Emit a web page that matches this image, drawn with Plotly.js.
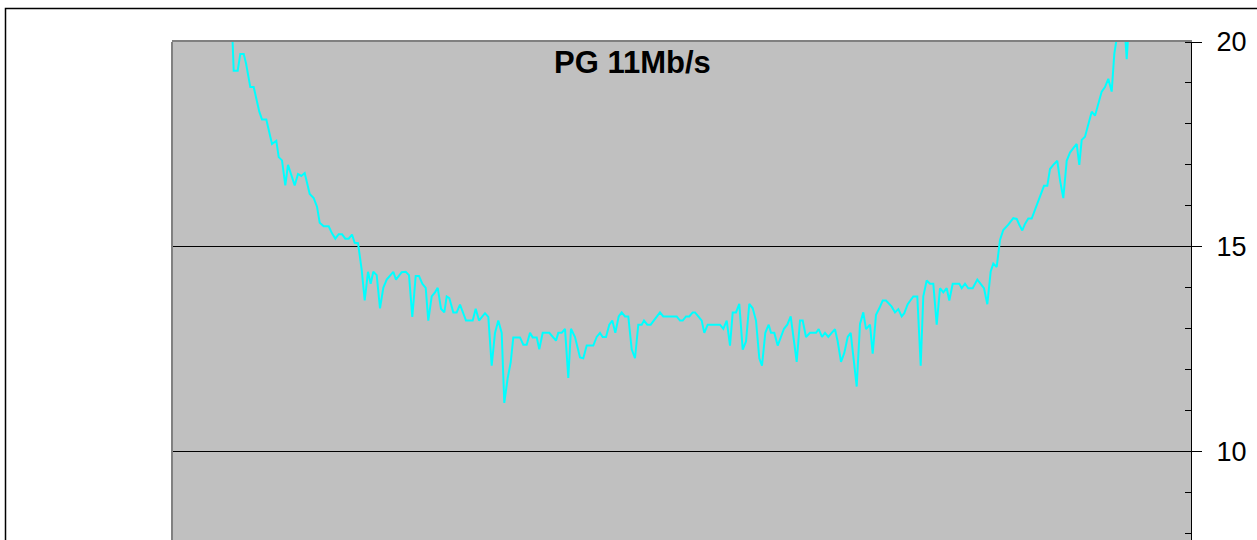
<!DOCTYPE html>
<html>
<head>
<meta charset="utf-8">
<script src="https://cdn.plot.ly/plotly-3.0.1.min.js"></script>
<style>
  html, body { margin: 0; padding: 0; background: #ffffff; overflow: hidden; }
  #chart { width: 1257px; height: 580px; }
</style>
</head>
<body>
<div id="chart"></div>
<script>
// Position along the run (arbitrary units, axis not shown) and signal value
const position = [
  0, 3.0, 6.0, 6.17, 6.57, 6.83, 7.17, 7.40, 7.83, 8.17, 8.73, 9.00, 9.43, 10.00, 10.43, 10.67, 11.00, 11.33, 11.60, 12.27,
  12.60, 12.93, 13.27, 13.77, 14.17, 14.50, 14.77, 15.17, 15.67, 16.00, 16.33, 16.67, 17.00, 17.33, 17.67, 18.00, 18.27, 18.60,
  18.97, 19.27, 19.60, 19.87, 20.13, 20.47, 20.80, 21.13, 21.47, 22.13, 22.40, 22.97, 23.37, 23.70, 24.03, 24.37, 24.70, 25.03,
  25.37, 25.63, 25.97, 26.30, 26.57, 26.90, 27.23, 27.47, 27.73, 28.13, 28.47, 28.80, 29.40, 30.07, 30.37, 30.70, 31.30, 31.63,
  31.97, 32.30, 32.63, 32.97, 33.23, 33.57, 33.87, 34.13, 34.80, 35.13, 35.47, 35.80, 36.07, 36.47, 36.73, 37.07, 37.73, 38.40,
  38.63, 38.97, 39.30, 39.63, 39.90, 40.30, 40.80, 41.13, 41.47, 42.13, 42.47, 42.80, 43.07, 43.40, 43.73, 44.03, 44.33, 44.67,
  44.97, 45.30, 45.63, 45.97, 46.30, 46.63, 46.97, 47.20, 47.53, 47.87, 48.47, 48.80, 49.13, 50.47, 50.80, 51.07, 51.40, 51.73,
  52.07, 52.30, 52.63, 52.97, 53.23, 53.57, 54.80, 55.13, 55.47, 55.80, 56.07, 56.40, 56.73, 57.07, 57.40, 57.73, 58.07, 58.40,
  58.73, 59.00, 59.33, 59.67, 59.90, 60.23, 60.57, 61.20, 61.53, 61.87, 62.47, 62.80, 63.07, 63.40, 63.80, 64.40, 64.67, 65.00,
  65.30, 65.63, 65.97, 66.30, 66.57, 66.90, 67.23, 67.57, 67.87, 68.13, 68.47, 68.80, 69.13, 69.40, 69.80, 70.07, 70.40, 70.73,
  71.07, 71.40, 71.97, 72.30, 72.63, 72.97, 73.23, 73.57, 74.13, 74.53, 74.87, 75.13, 75.47, 75.80, 76.13, 76.47, 76.80, 77.13,
  77.47, 77.73, 78.07, 78.73, 78.97, 79.30, 79.63, 80.07, 80.53, 81.20, 81.53, 81.87, 82.13, 82.47, 82.80, 83.13, 83.63, 84.13,
  84.47, 84.73, 85.03, 85.30, 85.63, 85.97, 86.30, 86.80, 87.20, 87.53, 87.80, 88.13, 88.53, 88.80, 89.13, 89.47, 89.80, 90.13,
  90.47, 90.73, 90.97, 91.30, 91.63, 91.97, 92.30, 92.63, 92.97, 93.30, 93.63, 93.97, 94.23, 94.60, 95.20, 95.47, 95.73, 97.0,
  100.0, 101.9
];
const signal = [
  23.2, 21.8, 20.4, 19.30, 19.30, 19.71, 19.71, 19.48, 18.90, 18.90, 18.30, 18.11, 18.11, 17.51, 17.59, 17.19, 17.11, 16.50, 17.00, 16.50,
  16.78, 16.73, 16.80, 16.29, 16.19, 15.98, 15.59, 15.50, 15.50, 15.33, 15.20, 15.31, 15.31, 15.20, 15.20, 15.30, 15.10, 15.09,
  14.44, 13.69, 14.39, 14.10, 14.39, 14.31, 13.50, 14.00, 14.20, 14.39, 14.20, 14.38, 14.39, 14.31, 13.29, 14.29, 14.29, 14.10,
  14.00, 13.20, 13.79, 13.89, 14.00, 13.49, 13.40, 13.79, 13.75, 13.40, 13.40, 13.59, 13.20, 13.20, 13.49, 13.20, 13.38, 13.29,
  12.10, 12.90, 13.20, 12.90, 11.19, 11.80, 12.18, 12.79, 12.79, 12.61, 12.61, 12.90, 12.79, 12.79, 12.50, 12.90, 12.90, 12.71,
  12.90, 12.90, 13.00, 11.80, 13.00, 12.80, 12.30, 12.28, 12.59, 12.59, 12.80, 12.90, 12.80, 12.80, 13.10, 13.20, 12.90, 13.30,
  13.40, 13.30, 13.30, 12.50, 12.28, 13.10, 13.10, 13.20, 13.10, 13.10, 13.30, 13.40, 13.30, 13.30, 13.20, 13.20, 13.30, 13.30,
  13.40, 13.40, 13.30, 13.20, 12.90, 13.10, 13.10, 13.00, 13.20, 12.59, 13.40, 13.40, 13.61, 12.49, 12.69, 13.61, 13.50, 13.20,
  12.28, 12.10, 12.90, 13.10, 12.90, 12.90, 12.59, 13.00, 13.10, 13.30, 12.19, 13.20, 13.20, 12.80, 12.90, 12.90, 12.99, 12.80,
  12.90, 12.80, 12.90, 12.99, 12.69, 12.19, 12.41, 12.80, 12.90, 12.30, 11.59, 13.12, 13.40, 12.99, 13.10, 12.39, 13.34, 13.50,
  13.69, 13.69, 13.54, 13.40, 13.48, 13.30, 13.38, 13.60, 13.79, 13.79, 12.10, 13.79, 14.18, 14.10, 14.10, 13.10, 13.99, 13.89,
  13.99, 13.69, 14.10, 14.10, 13.99, 14.10, 13.99, 13.99, 14.20, 13.99, 13.60, 14.40, 14.59, 14.51, 15.17, 15.41, 15.54, 15.70,
  15.68, 15.54, 15.40, 15.56, 15.69, 15.69, 15.90, 16.19, 16.49, 16.49, 16.90, 17.00, 17.10, 16.63, 16.19, 17.10, 17.30, 17.41,
  17.51, 17.00, 17.61, 17.69, 17.98, 18.30, 18.20, 18.50, 18.79, 18.90, 19.10, 18.79, 19.71, 20.30, 20.60, 19.58, 20.60, 21.3,
  22.5, 23.2
];
const chartTitle = 'PG 11Mb/s';
const yTickValues = [10, 15, 20];
const yTickLabels = ['10', '15', '20'];

// Layout geometry (pixels)
const W = 1257, H = 580;
const ML = 172, MR = 66, MT = 42;
const Y_MIN = 7.6, Y_MAX = 20, PX_PER_UNIT = 41;
const PH = (Y_MAX - Y_MIN) * PX_PER_UNIT;
const MB = H - MT - PH;
const PW = W - ML - MR;
const px2x = p => (p - ML) / PW;
const py2y = p => 1 - (p - MT) / PH;

const trace = {
  x: position,
  y: signal,
  type: 'scatter',
  mode: 'lines',
  line: { color: '#00FFFF', width: 2 },
  hoverinfo: 'skip',
  showlegend: false
};

const layout = {
  width: W,
  height: H,
  margin: { l: ML, r: MR, t: MT, b: MB, pad: 0 },
  paper_bgcolor: '#FFFFFF',
  plot_bgcolor: '#C0C0C0',
  font: { family: 'Liberation Sans, Arial, sans-serif', color: '#000000' },
  showlegend: false,
  xaxis: {
    range: [0, 101.9],
    showgrid: false,
    zeroline: false,
    showticklabels: false,
    ticks: '',
    showline: true,
    mirror: true,
    linecolor: '#808080',
    linewidth: 2,
    fixedrange: true
  },
  yaxis: {
    side: 'right',
    range: [Y_MIN, Y_MAX],
    tickvals: yTickValues,
    ticktext: yTickLabels,
    ticks: 'outside',
    ticklen: 10,
    tickwidth: 1,
    tickcolor: '#000000',
    tickfont: { size: 27, family: 'Liberation Sans, Arial, sans-serif', color: '#000000' },
    ticklabelstandoff: 9,
    showline: true,
    linecolor: '#000000',
    linewidth: 1,
    showgrid: true,
    gridcolor: '#000000',
    gridwidth: 1,
    zeroline: false,
    minor: { dtick: 1, tick0: 0, ticks: 'inside', ticklen: 6, tickwidth: 1, tickcolor: '#000000', showgrid: false },
    fixedrange: true
  },
  annotations: [{
    text: '<b>' + chartTitle + '</b>',
    xref: 'paper', yref: 'paper',
    x: px2x(632), y: py2y(63),
    xanchor: 'center', yanchor: 'middle',
    showarrow: false,
    font: { size: 31, family: 'Liberation Sans, Arial, sans-serif', color: '#000000' }
  }],
  shapes: [
    { type: 'line', xref: 'paper', yref: 'paper', x0: 0, x1: 0, y0: 0, y1: 1,
      line: { color: '#808080', width: 2 }, layer: 'above' },
    { type: 'rect', xref: 'paper', yref: 'paper',
      x0: px2x(5.5), x1: px2x(1400), y0: py2y(900), y1: py2y(8.5),
      line: { color: '#000000', width: 1.5 }, fillcolor: 'rgba(0,0,0,0)', layer: 'below' }
  ]
};

Plotly.newPlot('chart', [trace], layout, { staticPlot: true, displayModeBar: false });
</script>
</body>
</html>
